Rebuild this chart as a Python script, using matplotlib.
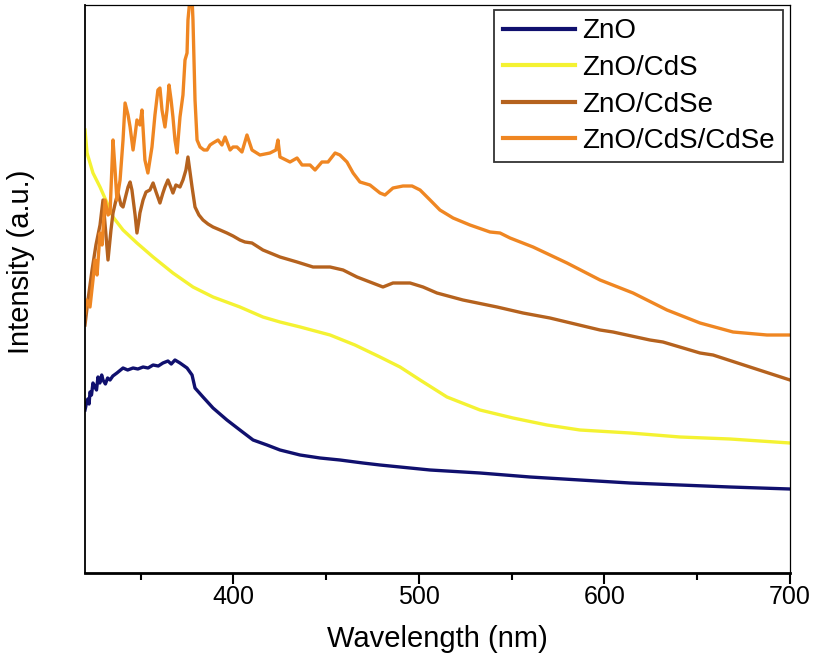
import matplotlib
matplotlib.use("Agg")
import matplotlib.pyplot as plt
from matplotlib.ticker import MultipleLocator, NullLocator

plt.rcParams['font.family'] = ['Liberation Sans', 'DejaVu Sans']

# ---- data (wavelength in nm, intensity in arbitrary units) ----
zno_wl = [320.0, 320.8, 321.5, 322.2, 322.7, 323.5, 324.3, 325.4, 326.2, 327.0, 328.0, 329.0,
          329.7, 331.0, 332.2, 333.5, 335.0, 337.2, 340.5, 343.0, 345.9, 348.5, 351.3, 354.0,
          356.7, 359.5, 362.0, 364.7, 366.5, 368.5, 371.2, 375.0, 377.7, 379.3, 383.6, 389.0,
          396.5, 403.5, 410.6, 418.1, 425.1, 435.9, 446.7, 457.4, 469.8, 479.0, 506.0, 532.9,
          559.9, 586.8, 613.8, 640.7, 667.7, 700.0]
zno_int = [163, 170, 174, 169, 181, 178, 190, 186, 183, 196, 190, 198,
           193, 189, 195, 193, 197, 200, 205, 203, 205, 204, 206, 205,
           208, 207, 210, 212, 209, 213, 210, 205, 198, 185, 176, 165,
           153, 143, 133, 128, 123, 118, 115, 113, 110, 108, 103, 100,
           96, 93, 90, 88, 86, 84]

cds_wl = [320.0, 321.1, 324.3, 328.1, 331.9, 335.1, 340.5, 348.0, 356.7, 367.4, 378.2, 389.0,
          403.5, 415.9, 425.1, 436.0, 452.1, 465.5, 479.0, 489.8, 500.6, 515.1, 532.9, 550.7,
          569.0, 586.8, 613.8, 640.7, 667.7, 700.0]
cds_int = [443, 420, 400, 386, 370, 356, 343, 330, 316, 300, 286, 276,
           266, 256, 251, 246, 238, 228, 216, 206, 193, 176, 163, 155,
           148, 143, 140, 136, 134, 130]

cdse_wl = [320.0, 321.6, 323.8, 325.9, 328.1, 329.7, 331.3, 332.4, 334.0, 335.1, 336.7, 337.8,
           339.4, 340.5, 342.1, 343.2, 344.3, 345.3, 347.0, 348.0, 349.1, 349.6, 351.3, 352.9,
           355.0, 356.7, 358.3, 360.4, 362.0, 363.1, 364.7, 366.4, 367.4, 369.0, 371.2, 372.8,
           374.4, 375.5, 376.6, 377.7, 379.3, 381.4, 383.6, 386.3, 389.0, 392.8, 396.5, 399.8,
           403.5, 406.2, 410.0, 415.9, 425.1, 434.3, 442.9, 452.1, 459.1, 466.6, 473.6, 480.6,
           486.0, 495.2, 502.2, 509.7, 523.7, 542.1, 556.1, 570.6, 597.6, 604.6, 624.5, 631.5,
           651.5, 658.5, 678.4, 700.0]
cdse_int = [248, 273, 303, 328, 348, 373, 338, 313, 343, 360, 373, 380,
            368, 366, 378, 386, 391, 383, 358, 340, 353, 360, 373, 381,
            383, 390, 381, 370, 380, 386, 393, 385, 380, 388, 386, 393,
            403, 416, 401, 386, 366, 358, 353, 349, 346, 343, 340, 337,
            333, 331, 330, 323, 316, 311, 306, 306, 303, 296, 291, 286,
            290, 290, 286, 280, 273, 266, 260, 255, 243, 241, 233, 231,
            220, 218, 206, 193]

cdscdse_wl = [320.0, 321.1, 322.7, 324.3, 325.4, 326.5, 328.1, 329.2, 330.8, 332.4, 333.5, 335.1,
              336.2, 337.2, 338.9, 340.5, 341.6, 343.2, 344.3, 345.9, 347.0, 348.0, 349.6, 350.7,
              352.3, 353.9, 355.0, 356.1, 357.7, 359.3, 360.4, 361.5, 363.1, 364.2, 365.3, 366.4,
              367.4, 368.5, 369.6, 371.2, 372.8, 373.9, 375.0, 375.5, 376.6, 377.7, 378.2, 379.3,
              380.4, 382.0, 384.1, 385.8, 387.4, 389.0, 391.7, 393.8, 395.5, 398.2, 399.8, 401.9,
              404.6, 407.3, 410.0, 414.3, 419.7, 422.9, 424.0, 425.1, 430.5, 434.3, 437.0, 441.3,
              444.0, 447.7, 451.0, 454.8, 457.4, 461.2, 464.5, 468.2, 473.6, 479.0, 481.7, 486.0,
              491.4, 496.3, 500.6, 506.0, 511.3, 518.4, 527.5, 538.3, 543.7, 549.1, 561.5, 579.8,
              597.6, 615.4, 633.7, 651.5, 669.3, 687.6, 700.0]
cdscdse_int = [260, 273, 266, 293, 313, 298, 340, 328, 373, 358, 360, 433,
               403, 373, 393, 433, 470, 458, 446, 423, 438, 453, 448, 463,
               413, 400, 413, 426, 458, 483, 485, 463, 446, 463, 488, 473,
               456, 433, 420, 456, 478, 513, 520, 553, 575, 575, 553, 473,
               433, 426, 423, 423, 428, 430, 433, 428, 436, 423, 426, 426,
               421, 438, 423, 418, 420, 423, 433, 416, 411, 415, 408, 408,
               403, 411, 411, 420, 418, 411, 400, 391, 388, 380, 378, 385,
               387, 387, 383, 373, 363, 355, 348, 341, 340, 335, 326, 310,
               293, 280, 263, 250, 241, 238, 238]

labels = ['ZnO', 'ZnO/CdS', 'ZnO/CdSe', 'ZnO/CdS/CdSe']
colors = ['#10106e', '#f4f232', '#b5621e', '#ef8622']

# ---- figure ----
fig = plt.figure(figsize=(8.14, 6.71), dpi=100)
ax = fig.add_axes([85/814, (671-573)/671, (790-85)/814, (573-5)/671])

series = [(zno_wl, zno_int), (cds_wl, cds_int), (cdse_wl, cdse_int), (cdscdse_wl, cdscdse_int)]
for (x, y), lab, c in zip(series, labels, colors):
    ax.plot(x, y, color=c, lw=2.4, label=lab, solid_joinstyle='round')

ax.set_xlim(320, 700)
ax.set_ylim(0, 568)
ax.xaxis.set_major_locator(MultipleLocator(100))
ax.xaxis.set_minor_locator(MultipleLocator(50))
ax.yaxis.set_major_locator(NullLocator())
ax.tick_params(axis='x', which='major', direction='out', length=8, width=1.5,
               labelsize=18, pad=1)
ax.tick_params(axis='x', which='minor', direction='out', length=5, width=1.5)

ax.spines['bottom'].set_linewidth(2.0)
ax.spines['left'].set_linewidth(1.3)
ax.spines['top'].set_linewidth(0.9)
ax.spines['right'].set_linewidth(0.9)

ax.set_xlabel('Wavelength (nm)', fontsize=21, labelpad=11)
ax.set_ylabel('Intensity (a.u.)', fontsize=21)
ax.yaxis.set_label_coords(-0.071, 0.548)

leg = ax.legend(loc='upper right', bbox_to_anchor=(0.990, 0.991), borderaxespad=0,
                fontsize=20, frameon=True, fancybox=False, edgecolor='black',
                handlelength=2.6, handletextpad=0.25, labelspacing=0.38,
                borderpad=0.3)
leg.get_frame().set_linewidth(1.3)
for line in leg.get_lines():
    line.set_linewidth(3)

fig.savefig('out.png', dpi=100)
